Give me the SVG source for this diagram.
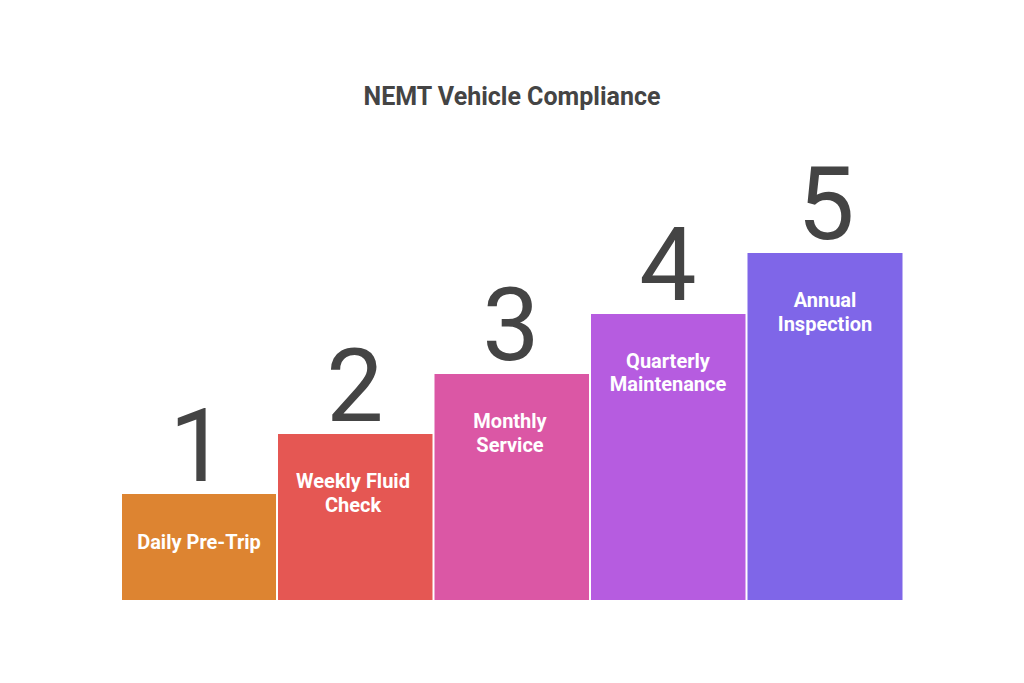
<svg xmlns="http://www.w3.org/2000/svg" width="1024" height="683" viewBox="0 0 1024 683">
<style>
.title{font-family:Roboto,"Liberation Sans",sans-serif;font-weight:700;font-size:25px;fill:#444444;text-anchor:middle}
.num{font-family:Roboto,"Liberation Sans",sans-serif;font-weight:400;font-size:102px;fill:#444444;text-anchor:middle}
.lbl{font-family:Roboto,"Liberation Sans",sans-serif;font-weight:700;font-size:20px;fill:#ffffff;text-anchor:middle}
</style>
<rect width="1024" height="683" fill="#ffffff"/>
<text class="title" x="512" y="105">NEMT Vehicle Compliance</text>
<g id="step1">
<rect x="122" y="494" width="154" height="106" fill="#DD8431"/>
<text class="num" x="198" y="481">1</text>
<text class="lbl" x="199" y="549">Daily Pre-Trip</text>
</g>
<g id="step2">
<rect x="278" y="434" width="154.5" height="166" fill="#E55753"/>
<text class="num" x="355" y="421">2</text>
<text class="lbl" x="353" y="488">Weekly Fluid</text>
<text class="lbl" x="353" y="512">Check</text>
</g>
<g id="step3">
<rect x="434.5" y="374" width="154.5" height="226" fill="#DB57A5"/>
<text class="num" x="511" y="360">3</text>
<text class="lbl" x="510" y="428">Monthly</text>
<text class="lbl" x="510" y="452">Service</text>
</g>
<g id="step4">
<rect x="591" y="314" width="154.5" height="286" fill="#B65CE0"/>
<text class="num" x="668" y="300">4</text>
<text class="lbl" x="668" y="368">Quarterly</text>
<text class="lbl" x="668" y="391">Maintenance</text>
</g>
<g id="step5">
<rect x="747.5" y="253" width="155" height="347" fill="#7F66E8"/>
<text class="num" x="826" y="239">5</text>
<text class="lbl" x="825" y="307">Annual</text>
<text class="lbl" x="825" y="331">Inspection</text>
</g>
<g id="connectors"/>
</svg>
